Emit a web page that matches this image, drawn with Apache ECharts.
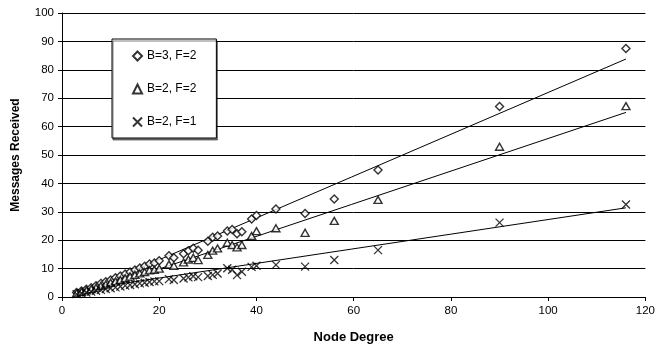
<!DOCTYPE html>
<html>
<head>
<meta charset="utf-8">
<script src="https://cdn.jsdelivr.net/npm/echarts@6/dist/echarts.min.js"></script>
<style>
  html, body { margin: 0; padding: 0; background: #fff; }
  #chart { width: 658px; height: 349px; }
</style>
</head>
<body>
<div id="chart"></div>
<script>
const nodeDegree = [3, 4, 5, 6, 7, 8, 9, 10, 11, 12, 13, 14, 15, 16, 17, 18, 19, 20, 22, 23, 25, 26, 27, 28, 30, 31, 32, 34, 35, 36, 37, 39, 40, 44, 50, 56, 65, 90, 116];

const b3f2 = [1.6, 2.1, 2.7, 3.3, 4.0, 4.8, 5.4, 6.0, 6.8, 7.4, 8.1, 8.8, 9.5, 10.2, 10.8, 11.6, 12.0, 12.8, 14.5, 13.8, 15.2, 16.3, 17.2, 16.5, 19.6, 21.0, 21.5, 23.2, 23.8, 22.3, 23.0, 27.5, 28.7, 31.0, 29.4, 34.5, 44.7, 67.1, 87.5];
const b2f2 = [1.3, 1.8, 2.3, 2.8, 3.3, 3.9, 4.4, 5.0, 5.5, 6.0, 6.6, 7.2, 7.8, 8.3, 8.8, 9.4, 9.6, 10.0, 11.5, 11.0, 12.2, 13.2, 13.8, 13.0, 14.8, 16.3, 17.1, 19.1, 18.3, 17.5, 18.3, 21.5, 23.2, 24.2, 22.6, 26.8, 34.2, 52.9, 67.2];
const b2f1 = [1.0, 1.3, 1.6, 1.9, 2.2, 2.5, 2.8, 3.1, 3.4, 3.7, 4.0, 4.2, 4.5, 4.8, 5.0, 5.3, 5.5, 5.6, 6.3, 6.0, 6.5, 6.9, 7.3, 7.0, 7.4, 7.8, 8.3, 10.1, 9.6, 7.7, 8.9, 10.6, 11.0, 11.3, 10.7, 13.0, 16.5, 26.2, 32.6];

// trend line end points
const trendX = [3, 116];
const trendB3F2 = [0.6, 83.8];
const trendB2F2 = [0.1, 65.0];
const trendB2F1 = [2.3, 31.4];

const seriesNames = ["B=3, F=2", "B=2, F=2", "B=2, F=1"];

const pairs = (xs, ys) => xs.map((x, i) => [x, ys[i]]);
const font = "'Liberation Sans', Arial, sans-serif";

const openMarker = { color: "#fff", borderColor: "#000", borderWidth: 1.4 };
const crossMarker = { color: "#000", borderColor: "#000", borderWidth: 1.3 };

const trend = (ys) => ({
  type: "line",
  data: pairs(trendX, ys),
  showSymbol: false,
  symbol: "none",
  silent: true,
  lineStyle: { color: "#000", width: 1 },
  z: 1
});

const chart = echarts.init(document.getElementById("chart"), null, { renderer: "canvas" });

chart.setOption({
  animation: false,
  grid: { left: 62, right: 11, top: 13, bottom: 52 },
  legend: {
    data: seriesNames,
    orient: "vertical",
    left: 112,
    top: 39,
    width: 112,
    padding: [11, 20, 10, 20],
    itemGap: 21,
    itemWidth: 9,
    itemHeight: 9,
    backgroundColor: "#fff",
    borderColor: "#000",
    borderWidth: 1,
    shadowColor: "rgba(0,0,0,0.5)",
    shadowOffsetX: 1,
    shadowOffsetY: 2,
    textStyle: { fontFamily: font, fontSize: 12, color: "#000" }
  },
  xAxis: {
    type: "value",
    min: 0,
    max: 120,
    interval: 20,
    name: "Node Degree",
    nameLocation: "middle",
    nameGap: 34,
    nameTextStyle: { fontFamily: font, fontSize: 13, fontWeight: "bold", color: "#000" },
    axisLine: { onZero: false, lineStyle: { color: "#000", width: 1 } },
    axisTick: { show: true, inside: false, length: 4, lineStyle: { color: "#000" } },
    axisLabel: { fontFamily: font, fontSize: 11.5, color: "#000", margin: 8 },
    splitLine: { show: false }
  },
  yAxis: {
    type: "value",
    min: 0,
    max: 100,
    interval: 10,
    name: "Messages Received",
    nameLocation: "middle",
    nameGap: 40,
    nameTextStyle: { fontFamily: font, fontSize: 12, fontWeight: "bold", color: "#000" },
    axisLine: { show: true, lineStyle: { color: "#000", width: 1 } },
    axisTick: { show: true, inside: false, length: 4, lineStyle: { color: "#000" } },
    axisLabel: { fontFamily: font, fontSize: 11.5, color: "#000", margin: 8 },
    splitLine: { show: true, lineStyle: { color: "#000", width: 1 } }
  },
  series: [
    trend(trendB3F2),
    trend(trendB2F2),
    trend(trendB2F1),
    {
      name: seriesNames[0],
      type: "scatter",
      data: pairs(nodeDegree, b3f2),
      symbol: "diamond",
      symbolSize: [8, 8],
      itemStyle: openMarker,
      z: 3
    },
    {
      name: seriesNames[1],
      type: "scatter",
      data: pairs(nodeDegree, b2f2),
      symbol: "triangle",
      symbolSize: [8, 7],
      itemStyle: openMarker,
      z: 3
    },
    {
      name: seriesNames[2],
      type: "scatter",
      data: pairs(nodeDegree, b2f1),
      symbol: "path://M0,0L10,10M10,0L0,10",
      symbolSize: [8, 8],
      itemStyle: crossMarker,
      z: 3
    }
  ]
});
</script>
</body>
</html>
